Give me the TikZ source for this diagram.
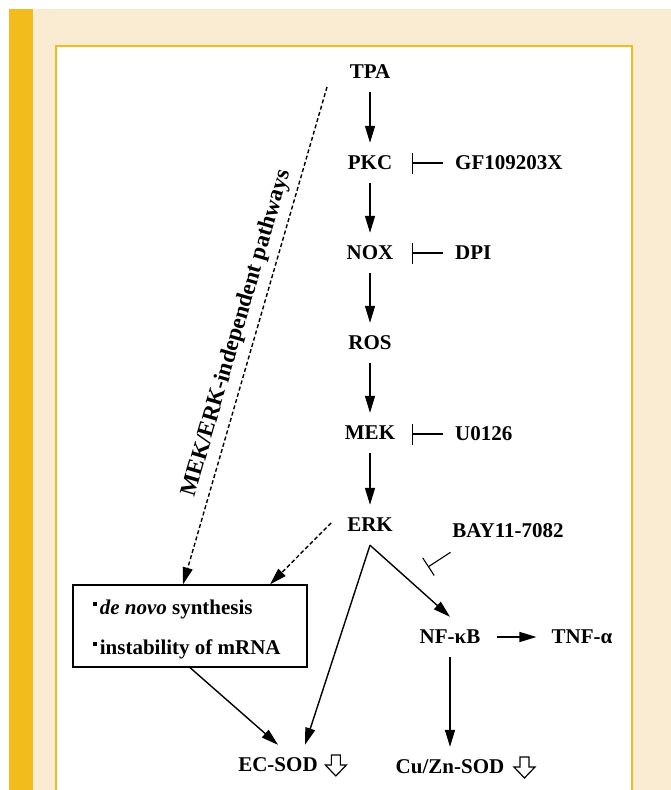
\documentclass[tikz,border=0pt]{standalone}
\usepackage{fontspec}
\setmainfont{Liberation Serif}
\usetikzlibrary{arrows.meta}
\definecolor{goldbar}{RGB}{242,189,28}
\definecolor{beigebg}{RGB}{250,236,210}
\begin{document}
\begin{tikzpicture}[x=1pt,y=-1pt,
  lbl/.style={font=\fontsize{21}{25}\selectfont\bfseries, inner sep=0pt, minimum height=40pt},
  arr/.style={line width=1.4pt, -{Triangle[length=17pt,width=10pt]}},
  darr/.style={arr, dash pattern=on 4pt off 2.5pt},
  inh/.style={line width=1.1pt, -{Bar[width=21pt,line width=1.1pt]}},
  hollow/.pic={\draw[line width=1.2pt, line join=miter, fill=white] (-4.5,-10) -- (4.5,-10) -- (4.5,0) -- (10.5,0) -- (0,11) -- (-10.5,0) -- (-4.5,0) -- cycle;}
]
\useasboundingbox (0,0) rectangle (671,790);
\fill[white] (0,0) rectangle (671,790);
\fill[beigebg] (33,9) rectangle (671,790);
\fill[goldbar] (9,9) rectangle (33,790);
\fill[white] (56,46) rectangle (632,790);
\draw[goldbar, line width=2pt] (56,790) -- (56,46) -- (632,46) -- (632,790);

% main column
\node[lbl] (tpa) at (370,72) {TPA};
\node[lbl] (pkc) at (370,163) {PKC};
\node[lbl] (nox) at (370,253) {NOX};
\node[lbl] (ros) at (370,343) {ROS};
\node[lbl] (mek) at (370,433) {MEK};
\node[lbl] (erk) at (370,525) {ERK};
% inhibitors
\node[lbl, anchor=west] (gf) at (455,163) {GF109203X};
\node[lbl, anchor=west] (dpi) at (455,253) {DPI};
\node[lbl, anchor=west] (u0126) at (455,434) {U0126};
\node[lbl] (bay) at (508,531) {BAY11-7082};
% lower part
\node[lbl] (nfkb) at (450,637) {NF-κB};
\node[lbl] (tnf) at (582,637) {TNF-α};
\node[lbl] (ecsod) at (278,765) {EC-SOD};
\node[lbl] (cuzn) at (450,767) {Cu/Zn-SOD};
\node[draw, line width=1.2pt, minimum width=234pt, minimum height=82pt, inner sep=0pt, align=left,
      font=\fontsize{21}{40}\selectfont\bfseries] (box) at (190,626)
  {\rule{0pt}{22pt}\rule[9pt]{3.5pt}{3.5pt}\hspace{3pt}\textit{de novo} synthesis\\ \rule[9pt]{3.5pt}{3.5pt}\hspace{3pt}instability of mRNA\hspace*{6pt}};
\node[font=\fontsize{23}{27}\selectfont\bfseries, rotate=73.7, inner sep=0pt] (mekerk) at (237,333) {MEK/ERK-independent pathways};

\coordinate (dtop) at (327,87);
\coordinate (pkcbar) at (412,163);
\coordinate (noxbar) at (412,253);
\coordinate (mekbar) at (412,434);
\coordinate (baybar) at (428,567);

% arrows
\draw[arr] (tpa.south) -- (pkc.north);
\draw[arr] (pkc.south) -- (nox.north);
\draw[arr] (nox.south) -- (ros.north);
\draw[arr] (ros.south) -- (mek.north);
\draw[arr] (mek.south) -- (erk.north);
\draw[inh, shorten <=12pt] (gf.west) -- (pkcbar);
\draw[inh, shorten <=12pt] (dpi.west) -- (noxbar);
\draw[inh, shorten <=12pt] (u0126.west) -- (mekbar);
\draw[inh, shorten <=2pt] (bay.south west) -- (baybar);
\draw[arr] (erk.south) -- (nfkb.north);
\draw[arr] (erk.south) -- ([xshift=27pt]ecsod.north);
\draw[arr] (box.south) -- (ecsod.north);
\draw[arr, shorten <=16pt, shorten >=15pt] (nfkb.east) -- (tnf.west);
\draw[arr] (nfkb.south) -- (cuzn.north);
\draw[darr] (dtop) -- ([xshift=-7pt]box.north);
\draw[darr] ([xshift=-16pt,yshift=2pt]erk.west) -- ([xshift=80pt]box.north);

\pic at ([xshift=18pt]ecsod.east) {hollow};
\pic at ([xshift=20pt]cuzn.east) {hollow};
\end{tikzpicture}
\end{document}
